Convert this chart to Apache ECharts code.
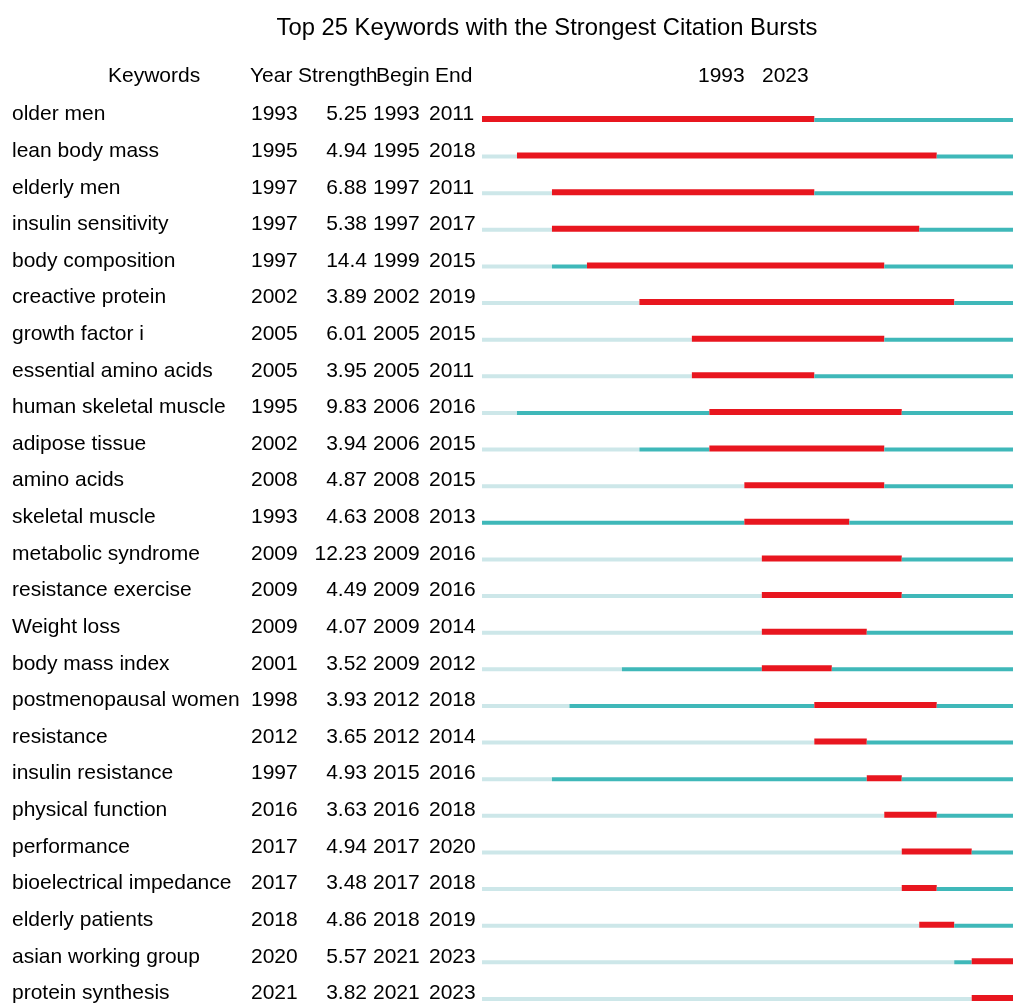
<!DOCTYPE html>
<html>
<head>
<meta charset="utf-8">
<script src="https://cdn.jsdelivr.net/npm/echarts@6/dist/echarts.min.js"></script>
<style>
  html, body { margin: 0; padding: 0; background: #fff; }
  #chart { width: 1013px; height: 1004px; }
</style>
</head>
<body>
<div id="chart"></div>
<script>
// burst table
const keywords = ['older men', 'lean body mass', 'elderly men', 'insulin sensitivity', 'body composition',
  'creactive protein', 'growth factor i', 'essential amino acids', 'human skeletal muscle', 'adipose tissue',
  'amino acids', 'skeletal muscle', 'metabolic syndrome', 'resistance exercise', 'Weight loss',
  'body mass index', 'postmenopausal women', 'resistance', 'insulin resistance', 'physical function',
  'performance', 'bioelectrical impedance', 'elderly patients', 'asian working group', 'protein synthesis'];
const years = [1993, 1995, 1997, 1997, 1997, 2002, 2005, 2005, 1995, 2002, 2008, 1993, 2009, 2009, 2009,
  2001, 1998, 2012, 1997, 2016, 2017, 2017, 2018, 2020, 2021];
const strengths = ['5.25', '4.94', '6.88', '5.38', '14.4', '3.89', '6.01', '3.95', '9.83', '3.94', '4.87', '4.63',
  '12.23', '4.49', '4.07', '3.52', '3.93', '3.65', '4.93', '3.63', '4.94', '3.48', '4.86', '5.57', '3.82'];
const begins = [1993, 1995, 1997, 1997, 1999, 2002, 2005, 2005, 2006, 2006, 2008, 2008, 2009, 2009, 2009,
  2009, 2012, 2012, 2015, 2016, 2017, 2017, 2018, 2021, 2021];
const ends = [2011, 2018, 2011, 2017, 2015, 2019, 2015, 2011, 2016, 2015, 2015, 2013, 2016, 2016, 2014,
  2012, 2018, 2014, 2016, 2018, 2020, 2018, 2019, 2023, 2023];
const firstYear = 1993;
const lastYear = 2023;

const LIGHT = '#cde7e9';
const TEAL = '#3fb8b9';
const RED = '#e8161f';
const FONT = 'Liberation Sans, Arial, sans-serif';

const rows = keywords.map((k, i) => [i, years[i], begins[i], ends[i]]);

// timeline is 17.49px per year, the last years run past the right edge
const pxPerYear = 17.49;
const gridLeft = 482;
const gridWidth = 1013 - gridLeft;

function renderItem(params, api) {
  const row = api.value(0);
  const y0 = api.value(1), b = api.value(2), e = api.value(3) + 1;
  const seg = (x0, x1, color, h, dy) => {
    const p0 = api.coord([x0, row]);
    const p1 = api.coord([x1, row]);
    return {
      type: 'rect',
      shape: { x: p0[0], y: p0[1] - h / 2 + dy, width: p1[0] - p0[0], height: h },
      style: { fill: color }
    };
  };
  const children = [];
  if (y0 > firstYear) children.push(seg(firstYear, y0, LIGHT, 4, 0));
  if (b > y0) children.push(seg(y0, b, TEAL, 4, 0));
  children.push(seg(b, e, RED, 6, -1));
  if (e <= lastYear) children.push(seg(e, lastYear + 1, TEAL, 4, 0));
  return { type: 'group', children: children };
}

// labels sit a few px above their line
const labelBase = { fontFamily: FONT, fontSize: 21, color: '#000', verticalAlign: 'bottom', lineHeight: 11 };
function textAxis(values, margin, align) {
  return {
    type: 'category', inverse: true, position: 'left', boundaryGap: false,
    data: values.map(String),
    axisLine: { show: false }, axisTick: { show: false }, splitLine: { show: false },
    axisLabel: Object.assign({}, labelBase, { margin: margin, align: align, interval: 0 })
  };
}

const hdr = (text, x) => ({ type: 'text', left: x, top: 66, style: { text: text, font: '21px ' + FONT, fill: '#000' } });

const chart = echarts.init(document.getElementById('chart'));
chart.setOption({
  animation: false,
  title: {
    text: 'Top 25 Keywords with the Strongest Citation Bursts',
    left: 542, top: 11, textAlign: 'center',
    textStyle: { fontFamily: FONT, fontSize: 23.8, fontWeight: 'normal', color: '#000' }
  },
  graphic: [
    hdr('Keywords', 108), hdr('Year', 250), hdr('Strength', 298), hdr('Begin', 376), hdr('End', 435),
    hdr(String(firstYear), 698), hdr(String(lastYear), 762)
  ],
  grid: { left: gridLeft, top: 120, width: gridWidth, height: 24 * 36.62 },
  xAxis: { type: 'value', min: firstYear, max: firstYear + gridWidth / pxPerYear, show: false },
  yAxis: [
    textAxis(keywords, 470, 'left'),
    textAxis(years, 231, 'left'),
    textAxis(strengths, 115, 'right'),
    textAxis(begins, 109, 'left'),
    textAxis(ends, 53, 'left')
  ],
  series: [{
    type: 'custom',
    renderItem: renderItem,
    encode: { x: [1, 2, 3], y: 0 },
    data: rows,
    clip: false
  }]
});
</script>
</body>
</html>
